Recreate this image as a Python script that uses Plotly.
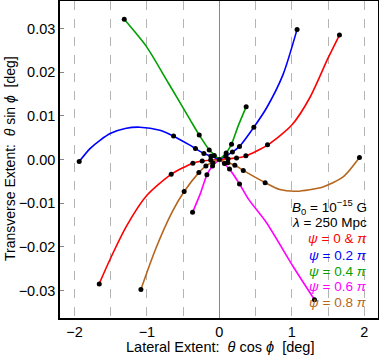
import plotly.graph_objects as go

# curve traces (x = theta cos phi, y = theta sin phi)
# every curve has a left and a right branch that meet at the origin
red_x = [-1.658, -1.51, -1.28, -1.0, -0.665, -0.366, -0.237, 0.0, 0.237, 0.37, 0.669, 1.0, 1.25, 1.5, 1.658]
red_y = [-0.02844, -0.0229, -0.0152, -0.0082, -0.0034, -0.00085, -0.00035, 0.0, 0.00037, 0.00083, 0.00335, 0.0079, 0.0142, 0.0232, 0.0285]

blue_x = [-1.935, -1.786, -1.648, -1.5, -1.3, -1.097, -0.821, -0.632, -0.407, -0.33, -0.214, -0.117, 0.0, 0.18, 0.278, 0.476, 0.651, 0.88, 1.073]
blue_y = [-0.00046, 0.0025, 0.0044, 0.006, 0.0071, 0.0074, 0.0067, 0.00534, 0.00328, 0.0025, 0.00137, 0.00075, 0.0, 0.0017, 0.003, 0.0074, 0.0118, 0.0195, 0.0298]

green_x = [-1.313, -1.004, -0.7, -0.407, -0.278, -0.14, 0.0, 0.094, 0.168, 0.26, 0.37]
green_y = [0.0321, 0.0258, 0.0174, 0.0092, 0.0056, 0.0022, 0.0, 0.0015, 0.0035, 0.0077, 0.01206]

magenta_x = [-0.37, -0.26, -0.172, -0.094, 0.0, 0.14, 0.278, 0.407, 0.651, 1.018, 1.313]
magenta_y = [-0.0121, -0.0077, -0.0035, -0.0015, 0.0, -0.0022, -0.0056, -0.0092, -0.0145, -0.0245, -0.0321]

brown_x = [-1.083, -0.88, -0.651, -0.486, -0.283, -0.186, -0.117, 0.0, 0.117, 0.214, 0.33, 0.632, 0.834, 1.065, 1.43, 1.708, 1.934]
brown_y = [-0.02975, -0.0205, -0.012, -0.00734, -0.003, -0.00147, -0.0008, 0.0, -0.00075, -0.0013, -0.0025, -0.0053, -0.00688, -0.00727, -0.00628, -0.004, 0.00046]

# black dots on each curve
dot_x = [-1.658, -0.665, -0.366, -0.237, -0.12, 0.0, 0.12, 0.237, 0.366, 0.665, 1.658,
         -1.935, -0.632, -0.33, -0.214, -0.117, 0.09, 0.18, 0.278, 0.476, 1.073,
         -1.313, -0.278, -0.14, -0.07, 0.094, 0.168, 0.37,
         1.313, 0.278, 0.14, 0.07, -0.094, -0.172, -0.37,
         1.934, 0.632, 0.33, 0.214, 0.117, -0.09, -0.186, -0.283, -0.486, -1.083]
dot_y = [-0.0285, -0.0034, -0.00084, -0.00035, -0.0001, 0.0, 0.0001, 0.00035, 0.00084, 0.0034, 0.0285,
         -0.00046, 0.0054, 0.0025, 0.00137, 0.00075, 0.0008, 0.0017, 0.003, 0.0074, 0.0298,
         0.0321, 0.0056, 0.0022, 0.0009, 0.0015, 0.0035, 0.01206,
         -0.0321, -0.0056, -0.0022, -0.0009, -0.0015, -0.0035, -0.0121,
         0.00046, -0.0053, -0.0025, -0.0013, -0.00075, -0.0008, -0.00147, -0.003, -0.00734, -0.02975]

curves = [(red_x, red_y, "#ff0000"), (blue_x, blue_y, "#0000ff"), (green_x, green_y, "#00a000"),
          (magenta_x, magenta_y, "#ff00ff"), (brown_x, brown_y, "#b5651d")]

fig = go.Figure()
for cx, cy, col in curves:
    i0 = cx.index(0.0)
    for bx, by in [(cx[:i0 + 1], cy[:i0 + 1]), (cx[i0:], cy[i0:])]:
        fig.add_trace(go.Scatter(x=bx, y=by, mode="lines", line=dict(color=col, width=1.6, shape="spline", smoothing=0.7),
                                 showlegend=False, hoverinfo="skip"))
fig.add_trace(go.Scatter(x=dot_x, y=dot_y, mode="markers", marker=dict(color="black", size=5), showlegend=False))

fnt = "Liberation Sans, Arial, sans-serif"
labels = [("<i>B</i><sub>0</sub> = 10<sup>−15</sup> G", "black", 207),
          ("<i>λ</i> = 250 Mpc", "black", 222),
          ("<i>ψ</i> = 0 &amp; <i>π</i>", "#ff0000", 238),
          ("<i>ψ</i> = 0.2 <i>π</i>", "#0000ff", 255),
          ("<i>ψ</i> = 0.4 <i>π</i>", "#00a000", 271),
          ("<i>ψ</i> = 0.6 <i>π</i>", "#ff00ff", 286),
          ("<i>ψ</i> = 0.8 <i>π</i>", "#b5651d", 302)]
for txt, col, py in labels:
    fig.add_annotation(text=txt, xref="paper", yref="paper", x=(369 - 60) / 318, y=1 - (py - 1) / 317,
                       xanchor="right", yanchor="middle", showarrow=False, font=dict(color=col, size=13.5, family=fnt))

# axis titles as annotations so margins stay fixed
fig.add_annotation(text="Lateral Extent:  <i>θ</i> cos <i>ϕ</i>  [deg]", xref="paper", yref="paper",
                   x=(220 - 60) / 318, y=1 - (347 - 1) / 317, xanchor="center", yanchor="middle",
                   showarrow=False, font=dict(size=14.5, family=fnt))
fig.add_annotation(text="Transverse Extent:  <i>θ</i> sin <i>ϕ</i>  [deg]", xref="paper", yref="paper",
                   x=(10 - 60) / 318, y=1 - (159 - 1) / 317, xanchor="center", yanchor="middle", textangle=-90,
                   showarrow=False, font=dict(size=14, family=fnt))

fig.update_layout(
    width=379, height=355, margin=dict(l=60, r=1, t=1, b=37),
    plot_bgcolor="white", paper_bgcolor="white",
    font=dict(family=fnt, size=13, color="black"),
)
fig.update_xaxes(range=[-2.2, 2.19], tickvals=[-2, -1, 0, 1, 2], ticktext=["−2", "−1", "0", "1", "2"],
                 automargin=False, tickfont=dict(size=14.5),
                 showgrid=True, gridcolor="#b4b4b4", griddash="dash", gridwidth=1,
                 minor=dict(tickvals=[-1.5, -0.5, 0.5, 1.5], showgrid=True, gridcolor="#b4b4b4", griddash="dash", gridwidth=1),
                 zeroline=True, zerolinecolor="#888888", zerolinewidth=1.2,
                 showline=True, linecolor="black", linewidth=1.5, mirror=True, ticks="")
fig.update_yaxes(range=[-0.0363, 0.0363], tickvals=[-0.03, -0.02, -0.01, 0, 0.01, 0.02, 0.03],
                 ticktext=["−0.03", "−0.02", "−0.01", "0.00", "0.01", "0.02", "0.03"],
                 automargin=False, tickfont=dict(size=14.5), showgrid=False, zeroline=False,
                 showline=True, linecolor="black", linewidth=1.5, mirror=True,
                 ticks="inside", ticklen=4, tickcolor="#888888")

# page body has an 8px default margin; drop it so the figure fills the window
fig.write_html("out.html", config={"displayModeBar": False},
               post_script="document.body.style.margin='0';document.body.style.overflow='hidden';")
